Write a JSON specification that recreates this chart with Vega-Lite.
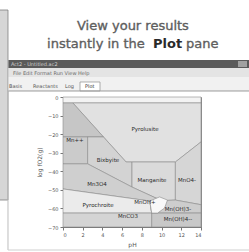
{
  "$schema": "https://vega.github.io/schema/vega-lite/v6.json",
  "width": 138,
  "height": 130,
  "autosize": {"type": "none"},
  "padding": {"left": 63, "top": 97, "right": 48, "bottom": 25},
  "background": "#ffffff",
  "config": {
    "font": "DejaVu Sans",
    "view": {"stroke": "#8a8a8a", "strokeWidth": 1},
    "axis": {"grid": false, "labelFontSize": 5, "labelColor": "#555555", "tickColor": "#777777", "domainColor": "#777777", "tickSize": 3, "titleFontSize": 6, "titleColor": "#555555", "titleFontWeight": "normal", "labelPadding": 2}
  },
  "datasets": {
    "chrome": [
      {"x": -6.493, "x2": -5.58, "y": 46.846, "y2": -55.462, "f": "#d6d6d6", "s": "#7f7f7f"},
      {"x": -5.58, "x2": 18.971, "y": 19.923, "y2": 15.615, "f": "#5a5a5a", "s": "none"},
      {"x": 17.754, "x2": 18.667, "y": 19.385, "y2": 16.154, "f": "#a0a0a0", "s": "none"},
      {"x": -5.58, "x2": 18.971, "y": 15.615, "y2": 10.769, "f": "#e4e4e4", "s": "none"},
      {"x": -5.58, "x2": 18.971, "y": 10.769, "y2": 3.231, "f": "#f1f1f1", "s": "none"},
      {"x": 1.725, "x2": 3.754, "y": 8.077, "y2": 3.231, "f": "#ffffff", "s": "#9a9a9a"}
    ],
    "rules": [
      {"x": -5.58, "x2": 18.971, "y": 3.231, "y2": 3.231, "s": "#9a9a9a"},
      {"x": -5.58, "x2": -5.58, "y": 19.923, "y2": -82.385, "s": "#bdbdbd"},
      {"x": -5.58, "x2": 18.971, "y": -82.385, "y2": -82.385, "s": "#cfcfcf"}
    ],
    "smalltext": [
      {"x": -5.275, "y": 17.769, "t": "Act2 - Untitled.ac2", "c": "#d0d0d0"},
      {"x": -5.073, "y": 13.192, "t": "File  Edit  Format  Run  View  Help", "c": "#6a6a6a"},
      {"x": -5.478, "y": 5.923, "t": "Basis", "c": "#555555"},
      {"x": -3.044, "y": 5.923, "t": "Reactants", "c": "#555555"},
      {"x": 0.203, "y": 5.923, "t": "Log", "c": "#555555"},
      {"x": 2.232, "y": 5.923, "t": "Plot", "c": "#333333"}
    ],
    "titlenormal": [
      {"x": 1.42, "y": 38.5, "t": "View your results"},
      {"x": -1.62, "y": 28.538, "t": "instantly in the"},
      {"x": 12.478, "y": 28.538, "t": "pane"}
    ],
    "titlebold": [
      {"x": 9.131, "y": 28.538, "t": "Plot"}
    ],
    "polys": [
      {"p": "a01", "i": 1, "x": 0, "y": 0, "f": "#f3f3f3"},
      {"p": "a01", "i": 2, "x": 14, "y": 0, "f": "#f3f3f3"},
      {"p": "a01", "i": 3, "x": 14, "y": -3.2, "f": "#f3f3f3"},
      {"p": "a01", "i": 4, "x": 0, "y": -3.2, "f": "#f3f3f3"},
      {"p": "a01", "i": 5, "x": 0, "y": 0, "f": "#f3f3f3"},
      {"p": "a02", "i": 1, "x": 1.0, "y": -3.2, "f": "#e1e1e1"},
      {"p": "a02", "i": 2, "x": 14, "y": -3.2, "f": "#e1e1e1"},
      {"p": "a02", "i": 3, "x": 14, "y": -24.2, "f": "#e1e1e1"},
      {"p": "a02", "i": 4, "x": 11.4, "y": -35, "f": "#e1e1e1"},
      {"p": "a02", "i": 5, "x": 6.4, "y": -35, "f": "#e1e1e1"},
      {"p": "a02", "i": 6, "x": 1.0, "y": -3.2, "f": "#e1e1e1"},
      {"p": "a03", "i": 1, "x": 0, "y": -3.2, "f": "#c6c6c6"},
      {"p": "a03", "i": 2, "x": 1.0, "y": -3.2, "f": "#c6c6c6"},
      {"p": "a03", "i": 3, "x": 4.1, "y": -21.5, "f": "#c6c6c6"},
      {"p": "a03", "i": 4, "x": 0, "y": -21.5, "f": "#c6c6c6"},
      {"p": "a03", "i": 5, "x": 0, "y": -3.2, "f": "#c6c6c6"},
      {"p": "a04", "i": 1, "x": 0, "y": -21.5, "f": "#cbcbcb"},
      {"p": "a04", "i": 2, "x": 2.5, "y": -21.5, "f": "#cbcbcb"},
      {"p": "a04", "i": 3, "x": 2.5, "y": -36, "f": "#cbcbcb"},
      {"p": "a04", "i": 4, "x": 0, "y": -36, "f": "#cbcbcb"},
      {"p": "a04", "i": 5, "x": 0, "y": -21.5, "f": "#cbcbcb"},
      {"p": "a05", "i": 1, "x": 2.5, "y": -21.5, "f": "#d3d3d3"},
      {"p": "a05", "i": 2, "x": 4.1, "y": -21.5, "f": "#d3d3d3"},
      {"p": "a05", "i": 3, "x": 6.4, "y": -35, "f": "#d3d3d3"},
      {"p": "a05", "i": 4, "x": 7, "y": -35, "f": "#d3d3d3"},
      {"p": "a05", "i": 5, "x": 7, "y": -48.5, "f": "#d3d3d3"},
      {"p": "a05", "i": 6, "x": 2.5, "y": -36, "f": "#d3d3d3"},
      {"p": "a05", "i": 7, "x": 2.5, "y": -21.5, "f": "#d3d3d3"},
      {"p": "a06", "i": 1, "x": 7, "y": -35, "f": "#dadada"},
      {"p": "a06", "i": 2, "x": 11.4, "y": -35, "f": "#dadada"},
      {"p": "a06", "i": 3, "x": 11.4, "y": -55.5, "f": "#dadada"},
      {"p": "a06", "i": 4, "x": 10.0, "y": -55.8, "f": "#dadada"},
      {"p": "a06", "i": 5, "x": 7, "y": -48.5, "f": "#dadada"},
      {"p": "a06", "i": 6, "x": 7, "y": -35, "f": "#dadada"},
      {"p": "a07", "i": 1, "x": 11.4, "y": -35, "f": "#d6d6d6"},
      {"p": "a07", "i": 2, "x": 14, "y": -24.2, "f": "#d6d6d6"},
      {"p": "a07", "i": 3, "x": 14, "y": -58, "f": "#d6d6d6"},
      {"p": "a07", "i": 4, "x": 11.4, "y": -55.5, "f": "#d6d6d6"},
      {"p": "a07", "i": 5, "x": 11.4, "y": -35, "f": "#d6d6d6"},
      {"p": "a08", "i": 1, "x": 0, "y": -36, "f": "#cfcfcf"},
      {"p": "a08", "i": 2, "x": 2.5, "y": -36, "f": "#cfcfcf"},
      {"p": "a08", "i": 3, "x": 7, "y": -48.5, "f": "#cfcfcf"},
      {"p": "a08", "i": 4, "x": 10.0, "y": -55.8, "f": "#cfcfcf"},
      {"p": "a08", "i": 5, "x": 8.8, "y": -56, "f": "#cfcfcf"},
      {"p": "a08", "i": 6, "x": 0, "y": -49.5, "f": "#cfcfcf"},
      {"p": "a08", "i": 7, "x": 0, "y": -36, "f": "#cfcfcf"},
      {"p": "a09", "i": 1, "x": 0, "y": -49.5, "f": "#ebebeb"},
      {"p": "a09", "i": 2, "x": 8.8, "y": -56, "f": "#ebebeb"},
      {"p": "a09", "i": 3, "x": 9.0, "y": -62.5, "f": "#ebebeb"},
      {"p": "a09", "i": 4, "x": 0, "y": -62.5, "f": "#ebebeb"},
      {"p": "a09", "i": 5, "x": 0, "y": -49.5, "f": "#ebebeb"},
      {"p": "a10", "i": 1, "x": 0, "y": -62.5, "f": "#d4d4d4"},
      {"p": "a10", "i": 2, "x": 9.0, "y": -62.5, "f": "#d4d4d4"},
      {"p": "a10", "i": 3, "x": 9.0, "y": -70, "f": "#d4d4d4"},
      {"p": "a10", "i": 4, "x": 0, "y": -70, "f": "#d4d4d4"},
      {"p": "a10", "i": 5, "x": 0, "y": -62.5, "f": "#d4d4d4"},
      {"p": "a11", "i": 1, "x": 10.0, "y": -55.8, "f": "#cdcdcd"},
      {"p": "a11", "i": 2, "x": 11.4, "y": -55.5, "f": "#cdcdcd"},
      {"p": "a11", "i": 3, "x": 14, "y": -58, "f": "#cdcdcd"},
      {"p": "a11", "i": 4, "x": 14, "y": -62.5, "f": "#cdcdcd"},
      {"p": "a11", "i": 5, "x": 9.0, "y": -62.5, "f": "#cdcdcd"},
      {"p": "a11", "i": 6, "x": 8.8, "y": -56, "f": "#cdcdcd"},
      {"p": "a11", "i": 7, "x": 10.0, "y": -55.8, "f": "#cdcdcd"},
      {"p": "a12", "i": 1, "x": 9.0, "y": -62.5, "f": "#c8c8c8"},
      {"p": "a12", "i": 2, "x": 14, "y": -62.5, "f": "#c8c8c8"},
      {"p": "a12", "i": 3, "x": 14, "y": -70, "f": "#c8c8c8"},
      {"p": "a12", "i": 4, "x": 9.0, "y": -70, "f": "#c8c8c8"},
      {"p": "a12", "i": 5, "x": 9.0, "y": -62.5, "f": "#c8c8c8"},
      {"p": "a13", "i": 1, "x": 8.8, "y": -56, "f": "#f8f8f8"},
      {"p": "a13", "i": 2, "x": 9.8, "y": -53.8, "f": "#f8f8f8"},
      {"p": "a13", "i": 3, "x": 10.6, "y": -55.5, "f": "#f8f8f8"},
      {"p": "a13", "i": 4, "x": 10.3, "y": -59.8, "f": "#f8f8f8"},
      {"p": "a13", "i": 5, "x": 9.6, "y": -62.5, "f": "#f8f8f8"},
      {"p": "a13", "i": 6, "x": 9.0, "y": -62.5, "f": "#f8f8f8"},
      {"p": "a13", "i": 7, "x": 8.8, "y": -56, "f": "#f8f8f8"}
    ],
    "labels": [
      {"x": 1.217, "y": -23.154, "t": "Mn++"},
      {"x": 4.565, "y": -33.923, "t": "Bixbyite"},
      {"x": 8.319, "y": -17.231, "t": "Pyrolusite"},
      {"x": 9.029, "y": -44.692, "t": "Manganite"},
      {"x": 12.58, "y": -44.692, "t": "MnO4-"},
      {"x": 3.449, "y": -46.846, "t": "Mn3O4"},
      {"x": 3.551, "y": -58.154, "t": "Pyrochroite"},
      {"x": 6.594, "y": -64.077, "t": "MnCO3"},
      {"x": 8.319, "y": -56.538, "t": "MnOH+"},
      {"x": 11.667, "y": -60.308, "t": "Mn(OH)3-"},
      {"x": 11.667, "y": -65.692, "t": "Mn(OH)4--"}
    ]
  },
  "encoding": {
    "x": {"field": "x", "type": "quantitative", "scale": {"domain": [0, 14], "nice": false, "zero": false}, "axis": {"values": [0, 2, 4, 6, 8, 10, 12, 14], "title": "pH", "titlePadding": 4}},
    "y": {"field": "y", "type": "quantitative", "scale": {"domain": [-70, 0], "nice": false, "zero": false}, "axis": {"values": [-70, -60, -50, -40, -30, -20, -10, 0], "title": "log fO2(g)", "titlePadding": 5}}
  },
  "layer": [
    {
      "data": {"name": "chrome"},
      "mark": {"type": "rect", "strokeWidth": 0.8},
      "encoding": {
        "x2": {"field": "x2"},
        "y2": {"field": "y2"},
        "fill": {"field": "f", "type": "nominal", "scale": null},
        "stroke": {"field": "s", "type": "nominal", "scale": null}
      }
    },
    {
      "data": {"name": "rules"},
      "mark": {"type": "rule", "strokeWidth": 1},
      "encoding": {
        "x2": {"field": "x2"},
        "y2": {"field": "y2"},
        "stroke": {"field": "s", "type": "nominal", "scale": null}
      }
    },
    {
      "data": {"name": "polys"},
      "mark": {"type": "line", "stroke": "#8a8a8a", "strokeWidth": 0.6, "interpolate": "linear"},
      "encoding": {
        "detail": {"field": "p", "type": "nominal"},
        "order": {"field": "i", "type": "quantitative"},
        "fill": {"field": "f", "type": "nominal", "scale": null}
      }
    },
    {
      "data": {"name": "labels"},
      "mark": {"type": "text", "fontSize": 5.5, "align": "center", "baseline": "middle", "color": "#2a2a2a"},
      "encoding": {"text": {"field": "t"}}
    },
    {
      "data": {"name": "smalltext"},
      "mark": {"type": "text", "fontSize": 5, "align": "left", "baseline": "middle"},
      "encoding": {
        "text": {"field": "t"},
        "color": {"field": "c", "type": "nominal", "scale": null}
      }
    },
    {
      "data": {"name": "titlenormal"},
      "mark": {"type": "text", "fontSize": 13, "align": "left", "baseline": "middle", "color": "#5e5e5e", "stroke": "#5e5e5e", "strokeWidth": 0.35},
      "encoding": {"text": {"field": "t"}}
    },
    {
      "data": {"name": "titlebold"},
      "mark": {"type": "text", "fontSize": 13, "fontWeight": "bold", "align": "left", "baseline": "middle", "color": "#2a2a2a"},
      "encoding": {"text": {"field": "t"}}
    }
  ]
}
